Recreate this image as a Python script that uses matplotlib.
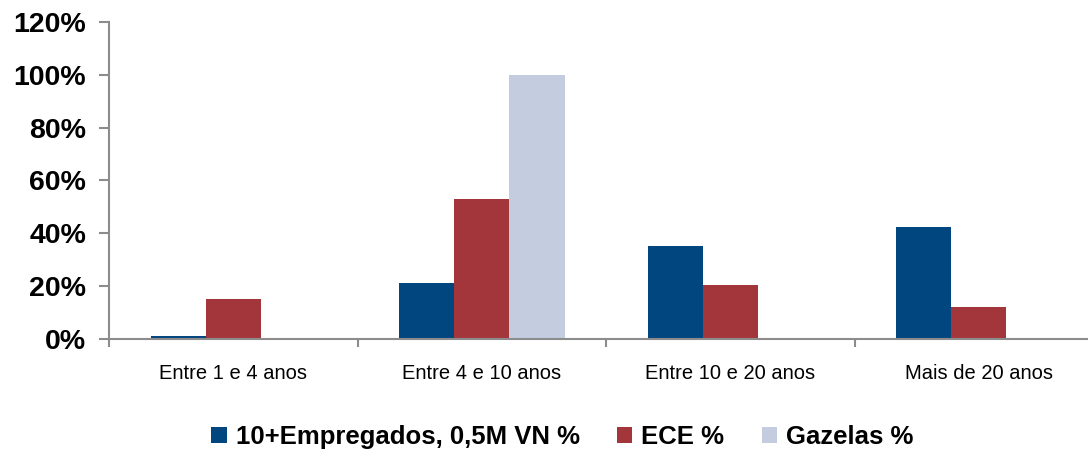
import numpy as np
import matplotlib.pyplot as plt
from matplotlib.ticker import FuncFormatter

categories = ['Entre 1 e 4 anos', 'Entre 4 e 10 anos', 'Entre 10 e 20 anos', 'Mais de 20 anos']
series_names = ['10+Empregados, 0,5M VN %', 'ECE %', 'Gazelas %']
empregados = [0.013, 0.21, 0.35, 0.425]
ece = [0.15, 0.53, 0.205, 0.12]
gazelas = [0.0, 1.0, 0.0, 0.0]
colors = ['#02467F', '#A3363A', '#C3CDDF']

plt.rcParams['font.family'] = ['Liberation Sans', 'DejaVu Sans']

fig = plt.figure(figsize=(10.88, 4.53), dpi=100)
ax = fig.add_axes([0.1002, 0.2517, 0.9136, 0.70])

x = np.arange(len(categories))
w = 0.222
for i, (vals, name, c) in enumerate(zip([empregados, ece, gazelas], series_names, colors)):
    ax.bar(x + (i - 1) * w, vals, w, color=c, label=name, linewidth=0)

ax.set_xlim(-0.5, len(categories) - 0.5)
ax.set_ylim(0, 1.2)
ax.set_yticks(np.arange(0, 1.21, 0.2))
ax.yaxis.set_major_formatter(FuncFormatter(lambda v, p: '%d%%' % round(v * 100)))
for lab in ax.get_yticklabels():
    lab.set_fontsize(20.5)
    lab.set_fontweight('bold')

ax.set_xticks(x)
ax.set_xticklabels(categories, fontsize=14.5)
ax.set_xticks(np.arange(-0.5, len(categories), 1), minor=True)
ax.tick_params(axis='x', which='major', length=0, pad=18)
ax.tick_params(axis='x', which='minor', length=6, width=1.5, color='#8C8C8C')
ax.tick_params(axis='y', length=7, width=1.5, color='#8C8C8C', pad=9.5)

for s in ['top', 'right']:
    ax.spines[s].set_visible(False)
for s in ['left', 'bottom']:
    ax.spines[s].set_color('#8C8C8C')
    ax.spines[s].set_linewidth(1.5)

ax.legend(loc='center', bbox_to_anchor=(0.456, -0.309), ncol=3, frameon=False,
          prop={'size': 18.5, 'weight': 'bold'}, handlelength=0.6, handleheight=0.6,
          handletextpad=0.35, columnspacing=1.45, borderpad=0, borderaxespad=0)

fig.savefig('out.png', dpi=100)
